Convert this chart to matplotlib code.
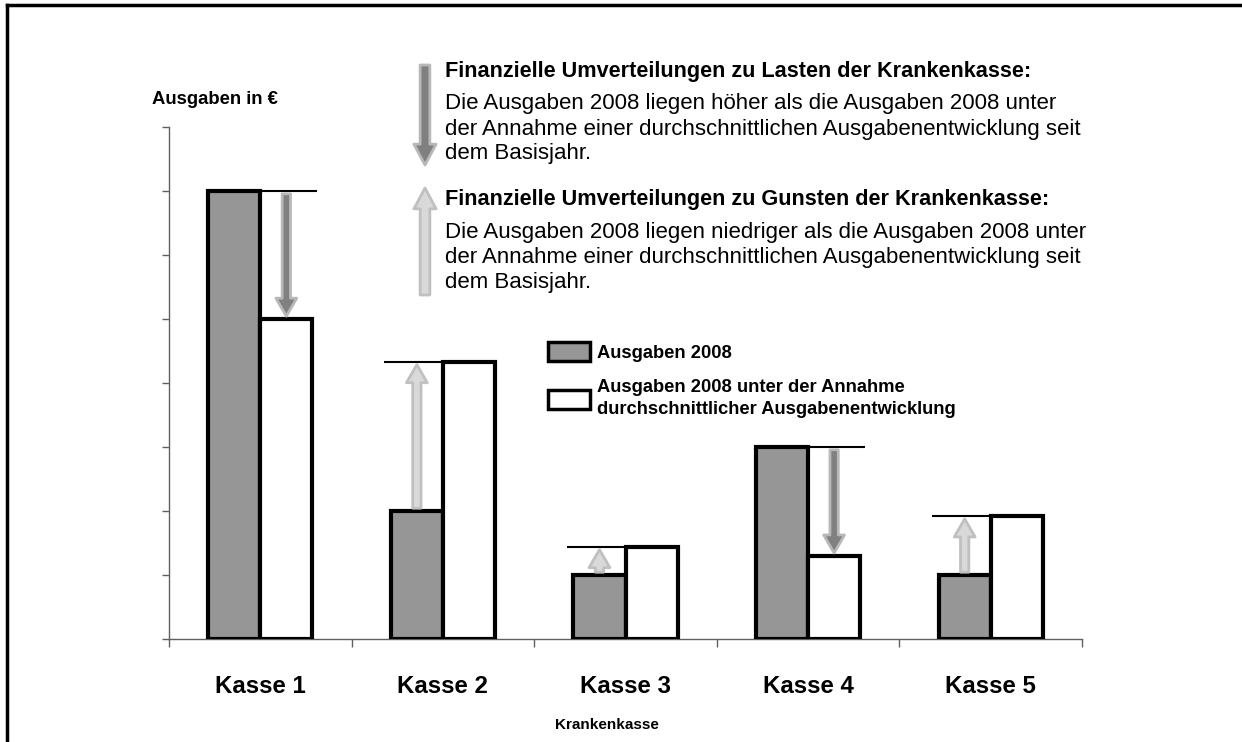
import numpy as np
import matplotlib
matplotlib.use('Agg')
import matplotlib.pyplot as plt
from matplotlib.patches import FancyArrowPatch, Patch

plt.rcParams['font.family'] = ['Liberation Sans', 'DejaVu Sans']

# data (units of the unlabelled y ticks)
kassen = ['Kasse 1', 'Kasse 2', 'Kasse 3', 'Kasse 4', 'Kasse 5']
ausgaben_2008 = [7.0, 2.0, 1.0, 3.0, 1.0]
ausgaben_erwartet = [5.0, 4.33, 1.44, 1.3, 1.92]

grey = '#969696'
W, H = 1242, 742


def fy(y):
    # picture y (from top) -> figure fraction
    return 1 - y / H


fig = plt.figure(figsize=(12.42, 7.42), dpi=100)
ax = fig.add_axes([169 / W, fy(639), (1082 - 169) / W, (639 - 127) / H])

x = np.arange(len(kassen))
bw = 0.285
ax.bar(x - bw / 2, ausgaben_2008, bw, color=grey, edgecolor='black', linewidth=3, zorder=3)
ax.bar(x + bw / 2, ausgaben_erwartet, bw, color='white', edgecolor='black', linewidth=3, zorder=3)

# reference line at the higher bar + arrow from actual to expected
for i, (a, e) in enumerate(zip(ausgaben_2008, ausgaben_erwartet)):
    top = max(a, e)
    left = i - 0.32 if a < e else i - bw
    right = i + 0.31 if e < a else i + bw
    ax.plot([left, right], [top, top], color='black', lw=1.5, zorder=4,
            solid_capstyle='butt')
    if a > e:
        xa, fc, ec = i + bw / 2, '#808080', '#b8b8b8'
    else:
        xa, fc, ec = i - bw / 2, '#d9d9d9', '#c0c0c0'
    arr = FancyArrowPatch((xa, a), (xa, e),
                          arrowstyle='simple,head_length=13,head_width=15,tail_width=6',
                          mutation_scale=1, shrinkA=2, shrinkB=2,
                          fc=fc, ec=ec, lw=2, zorder=5)
    ax.add_patch(arr)

ax.set_xlim(-0.5, len(kassen) - 0.5)
ax.set_ylim(0, 8)
ax.set_yticks(np.arange(0, 9))
ax.set_yticklabels([])
ax.tick_params(axis='y', direction='out', length=5, width=1, color='#606060')
ax.set_xticks(x)
ax.set_xticklabels(kassen, fontsize=17.3, fontweight='bold')
ax.set_xticks(np.arange(-0.5, len(kassen)), minor=True)
ax.tick_params(axis='x', which='major', length=0, pad=26)
ax.tick_params(axis='x', which='minor', direction='out', length=6, width=1, color='#606060')
for s in ['top', 'right']:
    ax.spines[s].set_visible(False)
for s in ['left', 'bottom']:
    ax.spines[s].set_color('#606060')
    ax.spines[s].set_linewidth(1)

ax.set_xlabel('Krankenkasse', fontsize=11, fontweight='bold')
ax.xaxis.set_label_coords((607 - 169) / 913, (639 - 718) / 512)
ax.set_ylabel('Ausgaben in €', fontsize=13.3, fontweight='bold', rotation=0,
              ha='center', va='center')
ax.yaxis.set_label_coords((215 - 169) / 913, (639 - 100) / 512)

# legend
handles = [Patch(fc=grey, ec='black', lw=2.5),
           Patch(fc='white', ec='black', lw=2.5)]
labels = ['Ausgaben 2008',
          'Ausgaben 2008 unter der Annahme\ndurchschnittlicher Ausgabenentwicklung']
leg = ax.legend(handles, labels, loc='upper left', frameon=False,
                bbox_to_anchor=(548 / W, fy(342)), bbox_transform=fig.transFigure,
                prop={'size': 13.2, 'weight': 'bold'}, handlelength=2.3,
                handleheight=1.25, handletextpad=0.38, labelspacing=0.95,
                borderpad=0, borderaxespad=0)
for t in leg.get_texts():
    t.set_linespacing(1.4)

# explanation block at the top
tx = 445 / W
fig.text(tx, fy(72), 'Finanzielle Umverteilungen zu Lasten der Krankenkasse:',
         fontsize=15.6, fontweight='bold', va='center')
fig.text(tx, fy(129), 'Die Ausgaben 2008 liegen höher als die Ausgaben 2008 unter\n'
         'der Annahme einer durchschnittlichen Ausgabenentwicklung seit\n'
         'dem Basisjahr.', fontsize=16, va='center', linespacing=1.25)
fig.text(tx, fy(200), 'Finanzielle Umverteilungen zu Gunsten der Krankenkasse:',
         fontsize=15.6, fontweight='bold', va='center')
fig.text(tx, fy(258), 'Die Ausgaben 2008 liegen niedriger als die Ausgaben 2008 unter\n'
         'der Annahme einer durchschnittlichen Ausgabenentwicklung seit\n'
         'dem Basisjahr.', fontsize=16, va='center', linespacing=1.25)

for (y0, y1, fc, ec) in [(65, 165, '#808080', '#b8b8b8'), (295, 188, '#d9d9d9', '#c0c0c0')]:
    fig.add_artist(FancyArrowPatch((425 / W, fy(y0)), (425 / W, fy(y1)),
                                   transform=fig.transFigure,
                                   arrowstyle='simple,head_length=15,head_width=16,tail_width=7',
                                   mutation_scale=1, shrinkA=0, shrinkB=0,
                                   fc=fc, ec=ec, lw=2))

# frame lines (top and left only visible)
fig.add_artist(plt.Line2D([7 / W, 1], [fy(5), fy(5)], color='black', lw=2.5,
                          transform=fig.transFigure))
fig.add_artist(plt.Line2D([7 / W, 7 / W], [0, fy(5)], color='black', lw=2.5,
                          transform=fig.transFigure))

fig.savefig('out.png', dpi=100)
